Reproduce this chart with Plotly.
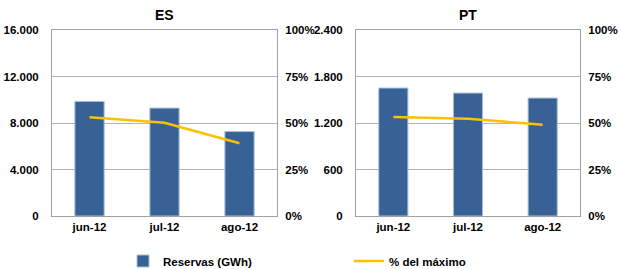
import plotly.graph_objects as go
from plotly.subplots import make_subplots

months = ["jun-12", "jul-12", "ago-12"]
es_reservas = [9860, 9280, 7265]
es_pct = [0.531, 0.501, 0.391]
pt_reservas = [1651, 1586, 1522]
pt_pct = [0.532, 0.523, 0.491]

bar_color = "#386295"
line_color = "#FFC000"
grid_color = "#B3B3B3"
font_family = "Liberation Sans, Arial, sans-serif"

fig = make_subplots(rows=1, cols=2,
                    specs=[[{"secondary_y": True}, {"secondary_y": True}]])

fig.add_trace(go.Bar(x=months, y=es_reservas, name="Reservas (GWh)",
                     marker=dict(color=bar_color, line=dict(color="#A9BEDA", width=1)),
                     legend="legend", showlegend=True),
              row=1, col=1, secondary_y=False)
fig.add_trace(go.Scatter(x=months, y=es_pct, name="% del máximo", mode="lines",
                         line=dict(color=line_color, width=2.5),
                         legend="legend2", showlegend=True),
              row=1, col=1, secondary_y=True)
fig.add_trace(go.Bar(x=months, y=pt_reservas, name="Reservas (GWh)",
                     marker=dict(color=bar_color, line=dict(color="#A9BEDA", width=1)),
                     showlegend=False),
              row=1, col=2, secondary_y=False)
fig.add_trace(go.Scatter(x=months, y=pt_pct, name="% del máximo", mode="lines",
                         line=dict(color=line_color, width=2.5),
                         showlegend=False),
              row=1, col=2, secondary_y=True)

W, H = 622, 269
ydom = [1 - 216 / H, 1 - 30 / H]
tickfont = dict(family=font_family, size=11.5, color="#000000", weight="bold")

common_y = dict(showline=True, linecolor="#A0A0A0", tickfont=tickfont,
                zeroline=False, automargin=False)

fig.update_layout(
    width=W, height=H,
    margin=dict(l=0, r=0, t=0, b=0, autoexpand=False),
    paper_bgcolor="white", plot_bgcolor="white",
    separators=",.",
    bargap=0.61,
    font=dict(family=font_family, color="#000000"),
    xaxis=dict(domain=[52 / W, 277 / W], type="category", range=[-0.5, 2.5],
               showline=True, linecolor="#A0A0A0", mirror=True, ticks="",
               tickfont=tickfont, showgrid=False, automargin=False),
    xaxis2=dict(domain=[356 / W, 580 / W], type="category", range=[-0.5, 2.5],
                showline=True, linecolor="#A0A0A0", mirror=True, ticks="",
                tickfont=tickfont, showgrid=False, automargin=False),
    yaxis=dict(domain=ydom, range=[0, 16000], tickvals=[0, 4000, 8000, 12000, 16000],
               tickformat=",d", showgrid=True, gridcolor=grid_color, gridwidth=1,
               ticklabelstandoff=10, **common_y),
    yaxis2=dict(range=[0, 1], tickvals=[0, 0.25, 0.5, 0.75, 1], tickformat=".0%",
                showgrid=False, ticklabelstandoff=5, **common_y),
    yaxis3=dict(domain=ydom, range=[0, 2400], tickvals=[0, 600, 1200, 1800, 2400],
                tickformat=",d", showgrid=True, gridcolor=grid_color, gridwidth=1,
                ticklabelstandoff=10, **common_y),
    yaxis4=dict(range=[0, 1], tickvals=[0, 0.25, 0.5, 0.75, 1], tickformat=".0%",
                showgrid=False, ticklabelstandoff=5, **common_y),
    legend=dict(orientation="h", x=123 / W, y=1 - 261 / H, xanchor="left", yanchor="middle",
                font=dict(family=font_family, size=11.5, weight="bold"),
                bgcolor="rgba(0,0,0,0)", itemwidth=30),
    legend2=dict(orientation="h", x=349 / W, y=1 - 261 / H, xanchor="left", yanchor="middle",
                 font=dict(family=font_family, size=11.5, weight="bold"),
                 bgcolor="rgba(0,0,0,0)", itemwidth=30),
    annotations=[
        dict(text="ES", x=(52 + 277) / 2 / W, y=1 - 15 / H, xref="paper", yref="paper",
             xanchor="center", yanchor="middle",
             showarrow=False, font=dict(family=font_family, size=14, weight="bold")),
        dict(text="PT", x=(356 + 580) / 2 / W, y=1 - 15 / H, xref="paper", yref="paper",
             xanchor="center", yanchor="middle",
             showarrow=False, font=dict(family=font_family, size=14, weight="bold")),
    ],
)
fig.update_yaxes(domain=ydom)

fig.write_html("out.html", config={"displayModeBar": False},
               post_script="document.body.style.margin='0';document.body.style.padding='0';")
